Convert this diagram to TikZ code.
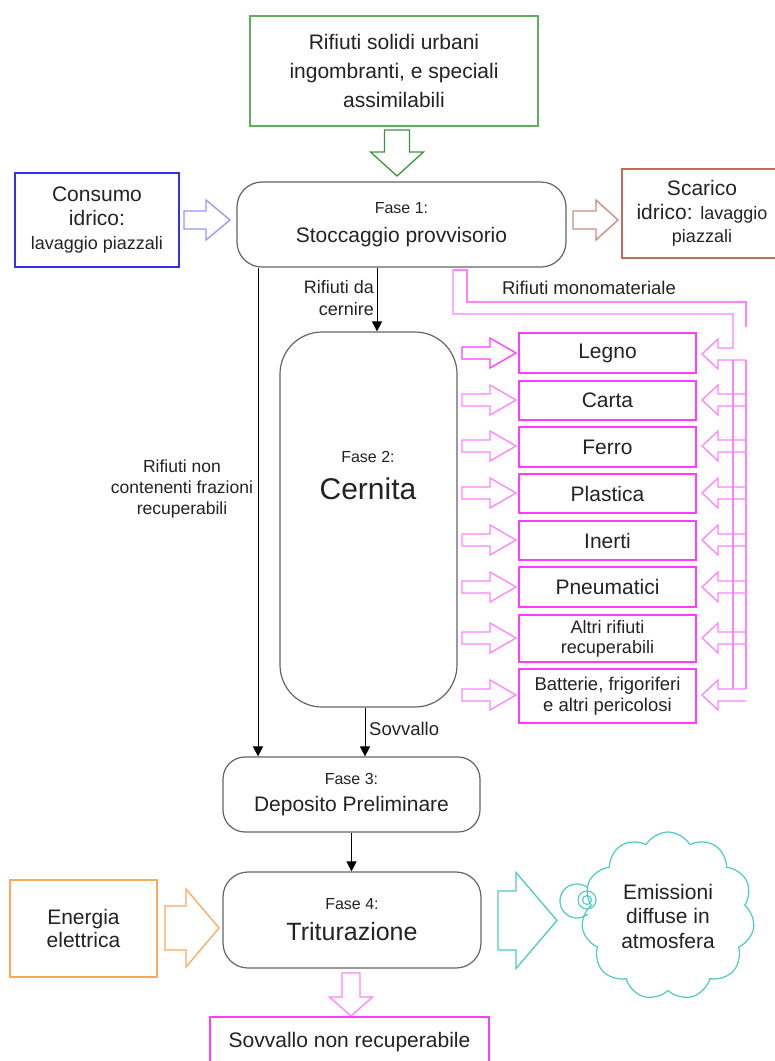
\documentclass[tikz,border=0pt]{standalone}
\usepackage{fontspec}
\setmainfont{Liberation Sans}
\usetikzlibrary{arrows.meta,shapes.symbols}
\definecolor{cgreen}{RGB}{95,175,95}
\definecolor{cgreenA}{RGB}{60,150,60}
\definecolor{cblue}{RGB}{50,50,240}
\definecolor{cblueA}{RGB}{150,150,255}
\definecolor{cbrown}{RGB}{190,110,90}
\definecolor{cbrownA}{RGB}{200,140,125}
\definecolor{cmag}{RGB}{255,60,255}
\definecolor{cmagA}{RGB}{255,130,255}
\definecolor{ccyan}{RGB}{80,200,200}
\definecolor{corange}{RGB}{250,170,90}
\definecolor{cgray}{RGB}{100,100,100}
\definecolor{ctext}{RGB}{35,35,35}
% hollow block arrow: style, x-start, x-head, x-tip, y-centre, shaft half, head half
\newcommand{\blkhor}[7]{\draw[#1] (#2,#5-#6) -- (#3,#5-#6) -- (#3,#5-#7) -- (#4,#5) -- (#3,#5+#7) -- (#3,#5+#6) -- (#2,#5+#6) -- cycle;}
% vertical: style, y-start, y-head, y-tip, x-centre, shaft half, head half
\newcommand{\blkver}[7]{\draw[#1] (#5-#6,#2) -- (#5-#6,#3) -- (#5-#7,#3) -- (#5,#4) -- (#5+#7,#3) -- (#5+#6,#3) -- (#5+#6,#2) -- cycle;}
% open left-pointing arrow from the bus
\newcommand{\busarrow}[1]{\draw[mline] (746,#1-6) -- (718,#1-6) -- (718,#1-15) -- (702,#1) -- (718,#1+15) -- (718,#1+6) -- (746,#1+6);}
\begin{document}
\begin{tikzpicture}[x=1pt,y=-1pt,
  box/.style={draw, line width=1.5pt, inner sep=0pt, align=center, text=ctext},
  rbox/.style={box, draw=cgray, line width=1.2pt, rounded corners=25pt},
  mbox/.style={box, draw=cmag, minimum width=177pt, font=\fontsize{21}{24}\selectfont},
  blk/.style={line width=1.3pt, fill=white, line join=miter},
  mline/.style={cmagA, line width=1.3pt},
  conn/.style={line width=1pt, -{Triangle[length=10pt,width=10pt]}},
  lbl/.style={inner sep=0pt, text=ctext}]
\useasboundingbox (0,0) rectangle (775,1061);
\fill[white] (0,0) rectangle (775,1061);

% top source
\node[box, draw=cgreen, minimum width=288pt, minimum height=110pt, font=\fontsize{21}{29}\selectfont] (src) at (394,71) {Rifiuti solidi urbani\\ingombranti, e speciali\\assimilabili};
\blkver{blk, draw=cgreenA}{130}{152}{176}{397}{12.5}{26.5}

% phase 1
\node[rbox, minimum width=329pt, minimum height=85pt, font=\fontsize{21}{29}\selectfont] (f1) at (401.5,224.5) {{\fontsize{16}{29}\selectfont Fase 1:}\\Stoccaggio provvisorio};
\node[box, draw=cblue, minimum width=164pt, minimum height=94pt, font=\fontsize{21}{24}\selectfont] (water) at (97,220) {Consumo\\idrico:\\{\fontsize{18}{24}\selectfont lavaggio piazzali}};
\blkhor{blk, draw=cblueA}{184}{206}{230}{220}{9}{20}
\node[box, draw=cbrown, minimum width=160pt, minimum height=89pt, font=\fontsize{21}{23.5}\selectfont] (drain) at (702,213.5) {Scarico\\idrico: {\fontsize{18}{23.5}\selectfont lavaggio}\\{\fontsize{18}{23.5}\selectfont piazzali}};
\blkhor{blk, draw=cbrownA}{573}{596}{618}{220}{9}{20}

% phase 2
\node[rbox, rounded corners=42pt, minimum width=177pt, minimum height=375pt] (f2) at (368.5,519.5) {};
\node[lbl, anchor=base, font=\fontsize{16}{20}\selectfont] (f2a) at (368,462) {Fase 2:};
\node[lbl, anchor=base, font=\fontsize{30}{32}\selectfont] (f2b) at (368,499) {Cernita};

% phase 3 and 4
\node[rbox, rounded corners=22pt, minimum width=257pt, minimum height=75pt, font=\fontsize{21}{27}\selectfont] (f3) at (351.5,794.5) {{\fontsize{16}{27}\selectfont Fase 3:}\\Deposito Preliminare};
\node[rbox, minimum width=258pt, minimum height=96pt, font=\fontsize{25}{31}\selectfont] (f4) at (352,920) {{\fontsize{16}{31}\selectfont Fase 4:}\\Triturazione};

% connectors
\coordinate (lx) at (258,0);
\coordinate (cx) at (377,0);
\coordinate (sx) at (365,0);
\draw[conn] (f1.south -| lx) -- (f3.north -| lx);
\draw[conn] (f1.south -| cx) -- (f2.north -| cx);
\draw[conn] (f2.south -| sx) -- (f3.north -| sx);
\draw[conn] (f3.south) -- (f3.south |- f4.north);

\node[lbl, anchor=east, align=right, font=\fontsize{18}{22}\selectfont] (lcern) at (374,298) {Rifiuti da\\cernire};
\node[lbl, align=center, font=\fontsize{17.5}{21}\selectfont] (lnon) at (182,489) {Rifiuti non\\contenenti frazioni\\recuperabili};
\node[lbl, anchor=west, font=\fontsize{18.5}{22}\selectfont] (lsov) at (369,729) {Sovvallo};
\node[lbl, font=\fontsize{18.5}{22}\selectfont] (lmono) at (589,288) {Rifiuti monomateriale};

% sorted materials
\node[mbox, minimum height=40pt] (m1) at (607.5,353) {Legno};
\node[mbox, minimum height=39pt] (m2) at (607.5,400.5) {Carta};
\node[mbox, minimum height=40pt] (m3) at (607.5,447) {Ferro};
\node[mbox, minimum height=39pt] (m4) at (607.5,493.5) {Plastica};
\node[mbox, minimum height=39pt] (m5) at (607.5,540.5) {Inerti};
\node[mbox, minimum height=40pt] (m6) at (607.5,587) {Pneumatici};
\node[mbox, minimum height=47pt, font=\fontsize{18}{20}\selectfont] (m7) at (607.5,638.5) {Altri rifiuti\\recuperabili};
\node[mbox, minimum height=54pt, font=\fontsize{18.5}{21}\selectfont] (m8) at (607.5,696) {Batterie, frigoriferi\\e altri pericolosi};

\blkhor{blk, draw=cmag}{462}{490}{516}{353}{6}{15}
\foreach \yc in {400,446,493,540,587,638,695}{
  \blkhor{blk, draw=cmagA}{462}{490}{516}{\yc}{6}{15}
}

% monomaterial hollow path and bus
\draw[mline, line join=miter] (453,270) -- (453,314) -- (733,314) -- (733,348) -- (718,348) -- (718,339) -- (702,354) -- (718,369) -- (718,360) -- (746,360);
\draw[mline, line join=miter] (453,270) -- (467,270) -- (467,302) -- (746,302) -- (746,327);
\draw[mline] (733,360) -- (733,689);
\draw[mline] (746,360) -- (746,689);
\foreach \yc in {400,446,493,540,587,638,695}{
  \busarrow{\yc}
}

% energy, emissions, residue
\node[box, draw=corange, minimum width=147pt, minimum height=97pt, font=\fontsize{21}{23}\selectfont] (energy) at (83.5,928.5) {Energia\\elettrica};
\blkhor{blk, draw=corange}{165}{186}{219}{928}{22}{39}
\blkhor{blk, draw=ccyan}{498}{516}{557}{920.5}{29.5}{48}
\node[cloud, draw=ccyan, line width=1.2pt, fill=white, cloud puffs=11, cloud puff arc=120, cloud ignores aspect, minimum width=173pt, minimum height=168pt, inner sep=0pt, align=center, text=ctext, font=\fontsize{21}{24.5}\selectfont] (emis) at (668,916) {Emissioni\\diffuse in\\atmosfera};
\draw[ccyan, line width=1.2pt] (587.9,914) arc[start angle=50, end angle=310, radius=17];
\draw[ccyan, line width=1.1pt] (587,900) circle[radius=9];
\draw[ccyan, line width=1.1pt] (587,900) circle[radius=4.5];

\blkver{blk, draw=cmagA}{973}{997}{1016}{351}{9}{21.5}
\node[box, draw=cmag, minimum width=279pt, minimum height=50pt, font=\fontsize{21}{24}\selectfont] (waste) at (349.5,1042) {Sovvallo non recuperabile};
\end{tikzpicture}
\end{document}
